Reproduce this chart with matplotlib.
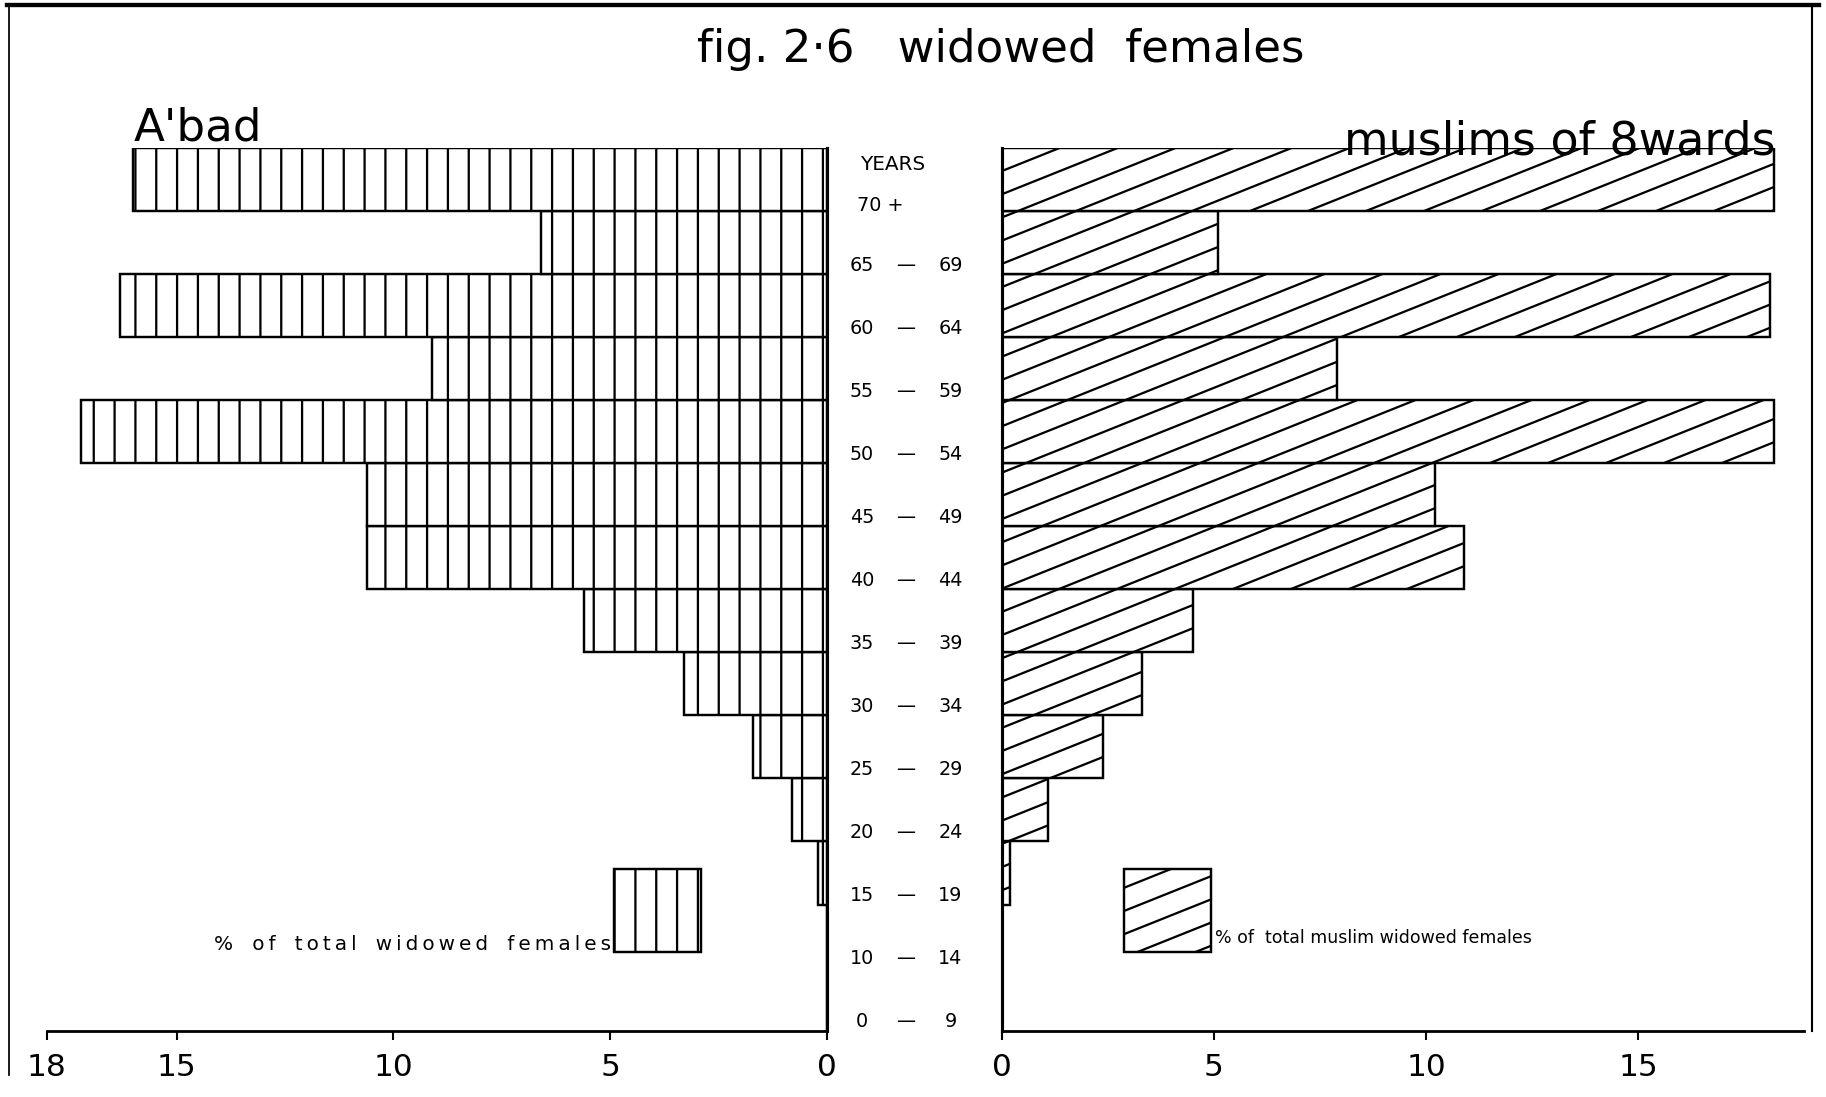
import numpy as np
import matplotlib
matplotlib.use("Agg")
from matplotlib import pyplot as plt
from matplotlib import transforms
from matplotlib.collections import LineCollection
from matplotlib.patches import Rectangle
from matplotlib.lines import Line2D

# age groups, bottom to top
age_lo = ['0', '10', '15', '20', '25', '30', '35', '40', '45', '50', '55', '60', '65', '70']
age_hi = ['9', '14', '19', '24', '29', '34', '39', '44', '49', '54', '59', '64', '69', '+']

# % of total widowed females - A'bad
abad_pct = [0, 0, 0.2, 0.8, 1.7, 3.3, 5.6, 10.6, 10.6, 17.2, 9.1, 16.3, 6.6, 16.0]
# % of total muslim widowed females - 8 wards
muslim_pct = [0, 0, 0.2, 1.1, 2.4, 3.3, 4.5, 10.9, 10.2, 18.2, 7.9, 18.1, 5.1, 18.2]

left_ticks = [18, 15, 10, 5, 0]
right_ticks = [0, 5, 10, 15]

plt.rcParams['hatch.linewidth'] = 1.3
plt.rcParams['font.family'] = ['DejaVu Sans']

W, H, DPI = 1826, 1097, 125
fig = plt.figure(figsize=(W / DPI, H / DPI), dpi=DPI)
fig.patch.set_facecolor('white')

n = len(age_lo)
ypos = np.arange(n) + 0.5

bot = 1 - 1030.6 / H
hgt = (1030.6 - 148) / H
axL = fig.add_axes([46.6 / W, bot, (827 - 46.6) / W, hgt])
axR = fig.add_axes([1001.5 / W, bot, (1804 - 1001.5) / W, hgt])

#### left pyramid (vertical hatching)
axL.barh(ypos, abad_pct, height=1, color='white', edgecolor='black', linewidth=1.4, hatch='|')
axL.set_xlim(18, 0)
axL.set_ylim(0, n)

#### right pyramid (shallow diagonal hatching, drawn by hand)
bars = axR.barh(ypos, muslim_pct, height=1, color='white', edgecolor='black', linewidth=1.4)
axR.set_xlim(0, 18.9)
axR.set_ylim(0, n)

ppx = (1804 - 1001.5) / 18.9     # px per unit x
ppy = (1030.6 - 148) / n         # px per row
s = 0.4 * ppx / ppy               # slope in data units
step = 58 / ppx
starts = np.arange(-n / s - step, 19.5, step)
segs = [[(c, 0), (c + n / s, n)] for c in starts]


def diag_hatch(ax, patch):
    lc = LineCollection(segs, colors='black', linewidths=1.3)
    ax.add_collection(lc)
    lc.set_clip_path(patch)


for b in bars:
    if b.get_width() > 0:
        diag_hatch(axR, b)


def spaced(txt):
    # typewriter-like letter spacing
    return '   '.join('\u2009'.join(w) for w in txt.split(' '))


# legends
legL = Rectangle((2.9, 1.24), 2.02, 1.33, facecolor='white', edgecolor='black', linewidth=1.4, hatch='|')
axL.add_patch(legL)
axL.text(4.98, 1.28, spaced('% of total widowed females'), ha='right', va='baseline', fontsize=11.5)

legR = Rectangle((2.88, 1.24), 2.05, 1.33, facecolor='white', edgecolor='black', linewidth=1.4, clip_on=False)
axR.add_patch(legR)
diag_hatch(axR, legR)
axR.text(5.02, 1.39, '% of  total muslim widowed females', ha='left', va='baseline', fontsize=10)

for ax, ticks in ((axL, left_ticks), (axR, right_ticks)):
    ax.set_yticks([])
    ax.set_xticks(ticks)
    ax.set_xticklabels([str(t) for t in ticks], fontsize=18)
    ax.tick_params(axis='x', length=5, width=1.2, pad=8)
    ax.spines['top'].set_visible(False)
    ax.spines['bottom'].set_linewidth(1.6)

axL.spines['left'].set_visible(False)
axL.spines['right'].set_linewidth(1.8)
axR.spines['right'].set_visible(False)
axR.spines['left'].set_linewidth(1.8)

#### age labels in the middle
trans = transforms.blended_transform_factory(fig.transFigure, axL.transData)
for i in range(n - 1):
    fig.text(0.472, i + 0.05, age_lo[i], transform=trans, ha='center', va='baseline', fontsize=11)
    fig.text(0.4957, i + 0.05, '—', transform=trans, ha='center', va='baseline', fontsize=11)
    fig.text(0.5205, i + 0.05, age_hi[i], transform=trans, ha='center', va='baseline', fontsize=11)
fig.text(0.4693, n - 1 + 0.0, age_lo[-1] + ' ' + age_hi[-1], transform=trans, ha='left', va='baseline', fontsize=11)
fig.text(0.471, n - 0.35, 'YEARS', transform=trans, ha='left', va='baseline', fontsize=11.5)

#### titles
fig.text(0.548, 0.955, 'fig. 2·6   widowed  females', ha='center', va='center', fontsize=26)
fig.text(0.0733, 0.872, "A'bad", ha='left', va='baseline', fontsize=26)
fig.text(0.9726, 0.859, 'muslims of 8wards', ha='right', va='baseline', fontsize=26.5)

# page frame
fig.add_artist(Line2D([0.004, 0.996], [0.995, 0.995], transform=fig.transFigure, color='black', lw=2.5))
fig.add_artist(Line2D([0.005, 0.005], [0.02, 0.995], transform=fig.transFigure, color='black', lw=1.0))
fig.add_artist(Line2D([0.9923, 0.9923], [0.06, 0.995], transform=fig.transFigure, color='black', lw=1.2))

plt.savefig('out.png', dpi=DPI, facecolor='white')
